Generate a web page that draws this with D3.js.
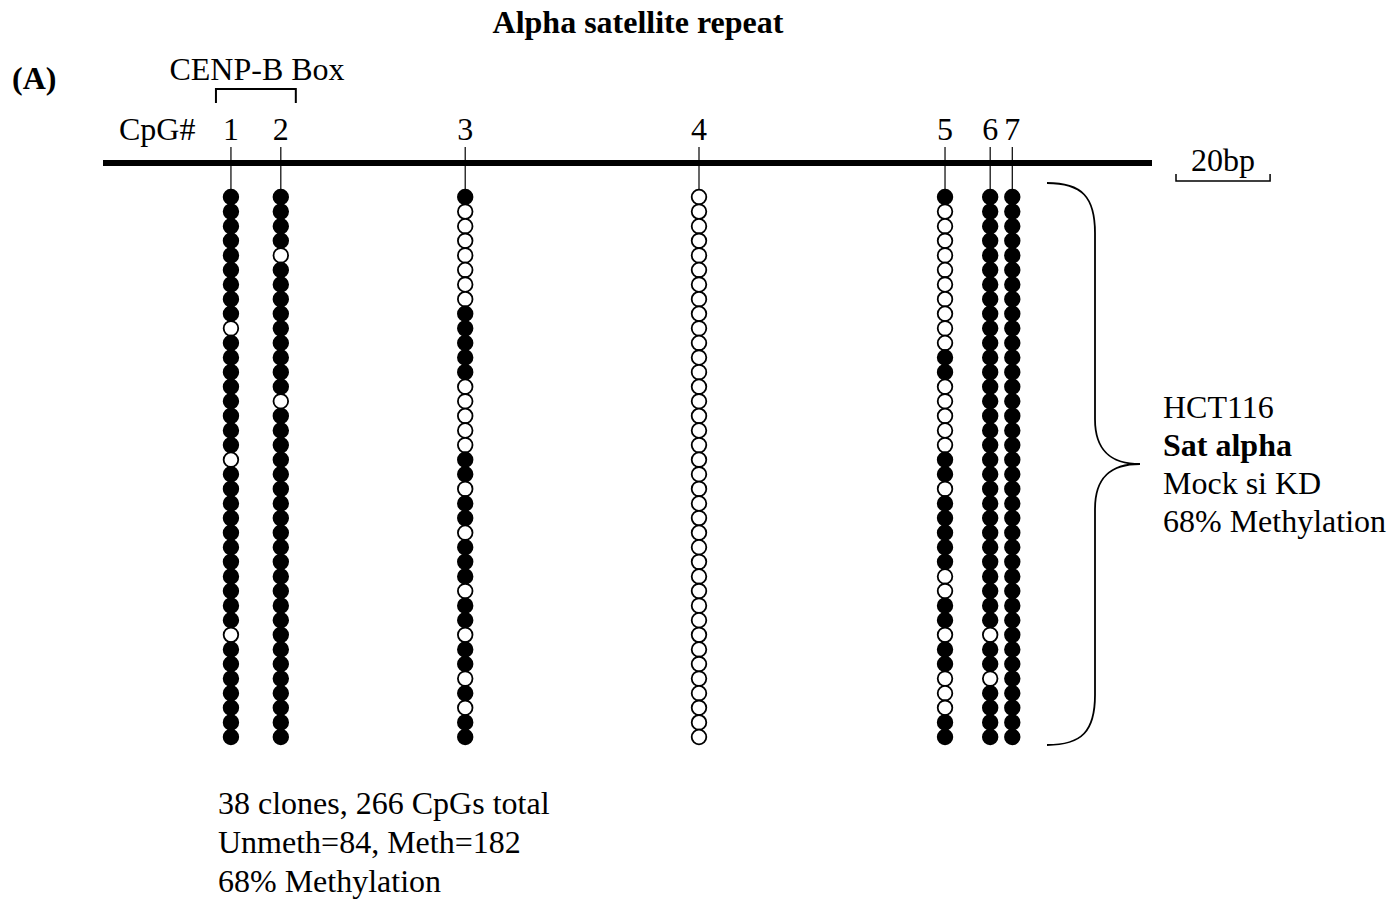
<!DOCTYPE html>
<html>
<head>
<meta charset="utf-8">
<script src="https://cdn.jsdelivr.net/npm/d3@7"></script>
<style>
  html, body { margin: 0; padding: 0; background: #fff; }
  svg { display: block; font-family: "Liberation Serif", "Times New Roman", serif; }
</style>
</head>
<body>
<svg id="chart" width="1395" height="902"></svg>
<script>
// CpG sites along the alpha satellite monomer (position in bp)
const cpgLabels = ["1", "2", "3", "4", "5", "6", "7"];
const cpgPositions = [27.2, 37.8, 77.0, 126.7, 179.0, 188.6, 193.3];

// Unmethylated clone indices (0-based, top to bottom) per CpG site; all other clones methylated
const unmethylatedClones = [
  [9, 18, 30],
  [4, 14],
  [1, 2, 3, 4, 5, 6, 7, 13, 14, 15, 16, 17, 20, 23, 27, 30, 33, 35],
  d3.range(0, 38),
  [1, 2, 3, 4, 5, 6, 7, 8, 9, 10, 13, 14, 15, 16, 17, 20, 26, 27, 30, 33, 34, 35],
  [30, 33],
  []
];
const cloneCount = 38;

const summaryLines = ["38 clones, 266 CpGs total", "Unmeth=84, Meth=182", "68% Methylation"];
const sampleLines = [
  { text: "HCT116", bold: false },
  { text: "Sat alpha", bold: true },
  { text: "Mock si KD", bold: false },
  { text: "68% Methylation", bold: false }
];

const svg = d3.select("#chart");
const fs = 32;

// Sequence coordinate -> pixel
const x = d3.scaleLinear().domain([0, 223]).range([103, 1152]);
// Clone index -> pixel
const y = d3.scaleLinear().domain([0, cloneCount - 1]).range([197, 737]);

// Title
svg.append("text").attr("x", 638).attr("y", 33).attr("text-anchor", "middle")
  .attr("font-size", fs).attr("font-weight", "bold").text("Alpha satellite repeat");

// Panel letter
svg.append("text").attr("x", 12).attr("y", 89)
  .attr("font-size", fs).attr("font-weight", "bold").text("(A)");

// CENP-B box label and bracket spanning CpG 1-2
svg.append("text").attr("x", 257).attr("y", 80).attr("text-anchor", "middle")
  .attr("font-size", fs).text("CENP-B Box");
svg.append("path")
  .attr("d", `M${x(cpgPositions[0]) - 15},103 V89 H${x(cpgPositions[1]) + 15} V103`)
  .attr("fill", "none").attr("stroke", "#000").attr("stroke-width", 2);

// CpG# row label
svg.append("text").attr("x", 119).attr("y", 140).attr("font-size", fs).text("CpG#");

// Site numbers and marker lines
const sites = svg.append("g");
cpgPositions.forEach((p, i) => {
  sites.append("text").attr("x", x(p)).attr("y", 140).attr("text-anchor", "middle")
    .attr("font-size", fs).text(cpgLabels[i]);
  sites.append("line").attr("x1", x(p)).attr("x2", x(p)).attr("y1", 147).attr("y2", 190)
    .attr("stroke", "#000").attr("stroke-width", 1.2);
});

// Sequence bar
svg.append("line").attr("x1", x(0)).attr("x2", x(223)).attr("y1", 163).attr("y2", 163)
  .attr("stroke", "#000").attr("stroke-width", 6);

// 20bp scale bar
const sbStart = 1176;
svg.append("path")
  .attr("d", `M${sbStart},174 V181 H${sbStart + (x(20) - x(0))} V174`)
  .attr("fill", "none").attr("stroke", "#000").attr("stroke-width", 1.5);
svg.append("text").attr("x", sbStart + (x(20) - x(0)) / 2).attr("y", 171)
  .attr("text-anchor", "middle").attr("font-size", fs).text("20bp");

// Lollipop circles: filled = methylated, open = unmethylated
const cells = [];
cpgPositions.forEach((p, i) => {
  const un = new Set(unmethylatedClones[i]);
  for (let c = 0; c < cloneCount; c++) cells.push({ pos: p, clone: c, meth: !un.has(c) });
});
svg.append("g").selectAll("circle").data(cells).join("circle")
  .attr("cx", d => x(d.pos))
  .attr("cy", d => y(d.clone))
  .attr("r", 7.3)
  .attr("fill", d => d.meth ? "#000" : "#fff")
  .attr("stroke", "#000")
  .attr("stroke-width", 1.8);

// Curly brace grouping all clones
const bTop = 183, bBot = 745, bMid = (bTop + bBot) / 2;
svg.append("path")
  .attr("d", `M1047,${bTop} C1082,${bTop} 1095,${bTop + 14} 1095,${bTop + 50}
              L1095,${bMid - 45} C1095,${bMid - 12} 1112,${bMid} 1140,${bMid}
              C1112,${bMid} 1095,${bMid + 12} 1095,${bMid + 45}
              L1095,${bBot - 50} C1095,${bBot - 14} 1082,${bBot} 1047,${bBot}`)
  .attr("fill", "none").attr("stroke", "#000").attr("stroke-width", 1.8);

// Sample description
svg.append("g").selectAll("text").data(sampleLines).join("text")
  .attr("x", 1163).attr("y", (d, i) => 418 + i * 38)
  .attr("font-size", fs).attr("font-weight", d => d.bold ? "bold" : "normal")
  .text(d => d.text);

// Summary counts
svg.append("g").selectAll("text").data(summaryLines).join("text")
  .attr("x", 218).attr("y", (d, i) => 814 + i * 39)
  .attr("font-size", fs).text(d => d);
</script>
</body>
</html>
